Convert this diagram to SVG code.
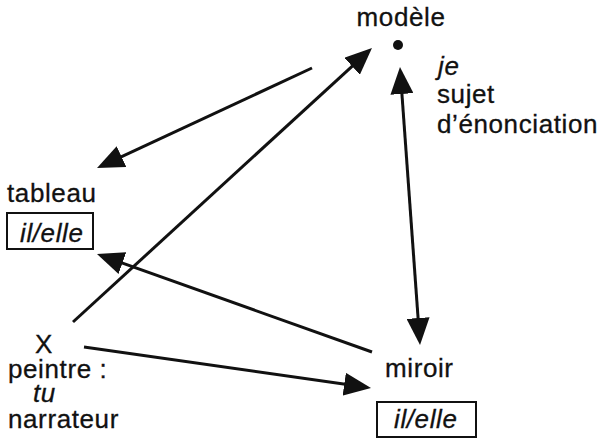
<svg xmlns="http://www.w3.org/2000/svg" width="605" height="440" viewBox="0 0 605 440">
<style>
text{font-family:"Liberation Sans",Arial,Helvetica,sans-serif;font-size:26px;fill:#111;letter-spacing:0.6px;stroke:#111;stroke-width:0.3}
.it{font-style:italic}
.box{fill:none;stroke:#111;stroke-width:2}
.conn line{stroke:#111;stroke-width:3;fill:none}
</style>
<defs>
<marker id="ah" viewBox="0 0 27 23" refX="17" refY="11.5" markerWidth="27" markerHeight="23" markerUnits="userSpaceOnUse" orient="auto-start-reverse">
<path d="M0,0 L27,11.5 L0,23 z" fill="#111"/>
</marker>
</defs>
<rect width="605" height="440" fill="#fff"/>
<g id="modele">
<text x="401" y="26" text-anchor="middle">modèle</text>
<circle cx="398" cy="45" r="5" fill="#111"/>
<text x="438" y="75" class="it">je</text>
<text x="437" y="103">sujet</text>
<text x="437" y="133">d’énonciation</text>
</g>
<g id="tableau">
<text x="7" y="202">tableau</text>
<rect class="box" x="7" y="213" width="86" height="36"/>
<text x="20" y="242" class="it">il/elle</text>
</g>
<g id="peintre">
<text x="35" y="353">X</text>
<text x="8" y="378">peintre :</text>
<text x="33" y="402" class="it">tu</text>
<text x="8" y="428">narrateur</text>
</g>
<g id="miroir">
<text x="385" y="377">miroir</text>
<rect class="box" x="377" y="402" width="99" height="35"/>
<text x="394" y="428" class="it">il/elle</text>
</g>
<g class="conn" id="connectors">
<line x1="312" y1="68" x2="106.1" y2="163.8" marker-end="url(#ah)"/>
<line x1="73" y1="322" x2="364.6" y2="54.8" marker-end="url(#ah)"/>
<line x1="400.7" y1="77" x2="419.3" y2="335" marker-start="url(#ah)" marker-end="url(#ah)"/>
<line x1="372" y1="352" x2="106.4" y2="257.4" marker-end="url(#ah)"/>
<line x1="84" y1="347" x2="361.1" y2="386.6" marker-end="url(#ah)"/>
</g>
</svg>
